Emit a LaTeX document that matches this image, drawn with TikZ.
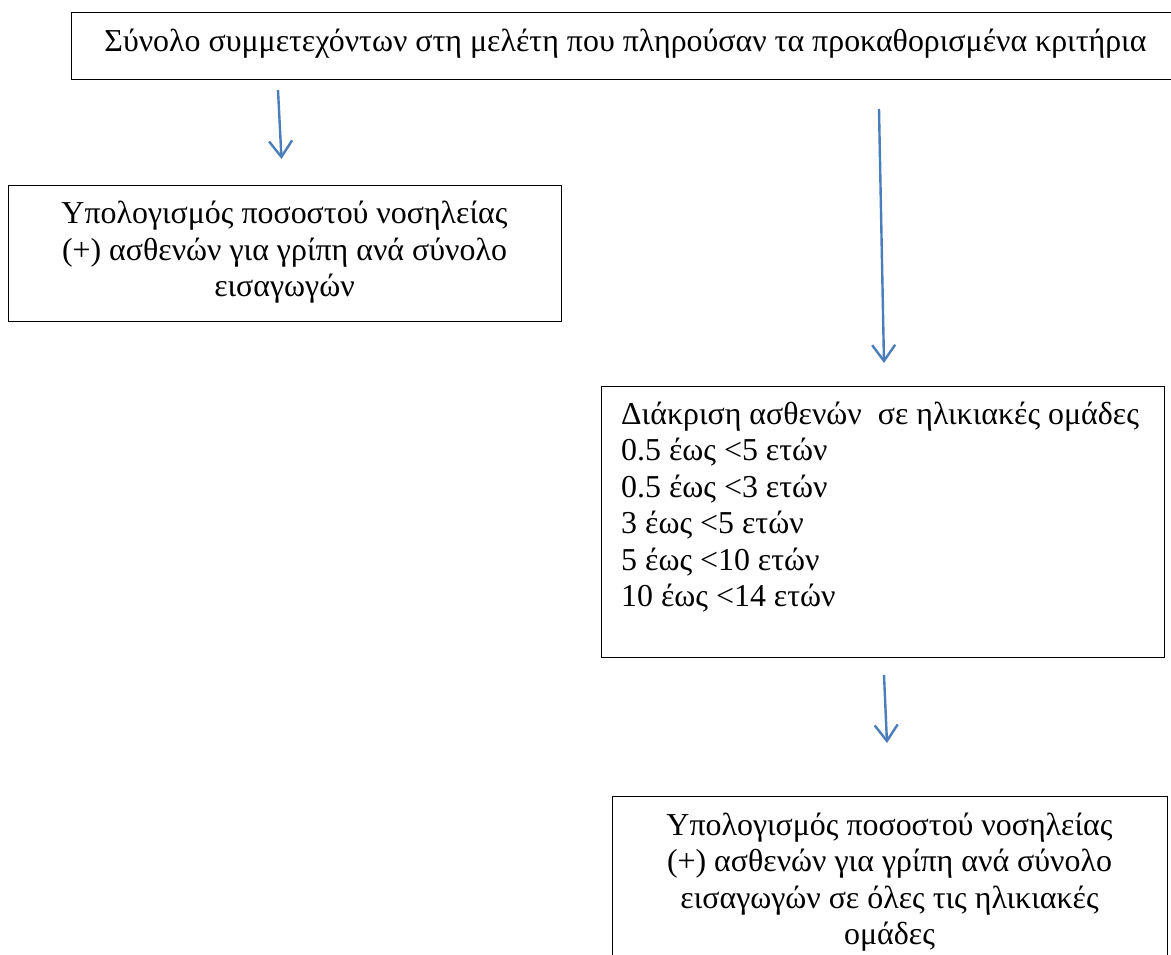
\documentclass[tikz,border=0pt]{standalone}
\usepackage{fontspec}
\setmainfont{Liberation Serif}
\usetikzlibrary{arrows.meta}
\definecolor{arrowblue}{HTML}{4A7EBB}
\tikzset{
  box/.style={draw=black, line width=1.2pt, rectangle, inner sep=0pt, anchor=north west},
  txt/.style={inner sep=0pt, anchor=base, font=\fontsize{31.9}{36.5}\selectfont},
  flow/.style={draw=arrowblue, line width=2.4pt, -{Straight Barb[length=16pt, width=23pt, line width=2.4pt]}}
}
\begin{document}
\begin{tikzpicture}[x=1pt,y=-1pt]
\clip (0,0) rectangle (1171,955);
\useasboundingbox (0,0) rectangle (1171,955);
% boxes
\node[box, minimum width=1120pt, minimum height=67pt] (b1) at (71,12) {};
\node[box, minimum width=553pt, minimum height=136pt] (b2) at (8,185) {};
\node[box, minimum width=563pt, minimum height=271pt] (b3) at (601,386) {};
\node[box, minimum width=555pt, minimum height=200pt] (b4) at (612,796) {};
% texts
\node[txt] (t1) at (625.5,52) {Σύνολο συμμετεχόντων στη μελέτη που πληρούσαν τα προκαθορισμένα κριτήρια};
\node[txt] (t2) at (284.5,224) {\begin{tabular}[t]{@{}c@{}}Υπολογισμός ποσοστού νοσηλείας\\(+) ασθενών για γρίπη ανά σύνολο\\εισαγωγών\end{tabular}};
\node[txt, anchor=base west] (t3) at (621,424) {\begin{tabular}[t]{@{}l@{}}Διάκριση ασθενών\ \ σε ηλικιακές ομάδες\\0.5 έως <5 ετών\\0.5 έως <3 ετών\\3 έως <5 ετών\\5 έως <10 ετών\\10 έως <14 ετών\end{tabular}};
\node[txt] (t4) at (889.5,835) {\begin{tabular}[t]{@{}c@{}}Υπολογισμός ποσοστού νοσηλείας\\(+) ασθενών για γρίπη ανά σύνολο\\εισαγωγών σε όλες τις ηλικιακές\\ομάδες\end{tabular}};
% arrow end points
\coordinate (a1s) at (278,90);
\coordinate (a1e) at (281.5,159);
\coordinate (a2s) at (879,109);
\coordinate (a2e) at (884,363);
\coordinate (a3s) at (884,675);
\coordinate (a3e) at (887,743);
\draw[flow] (a1s) -- (a1e);
\draw[flow] (a2s) -- (a2e);
\draw[flow] (a3s) -- (a3e);
\end{tikzpicture}
\end{document}
